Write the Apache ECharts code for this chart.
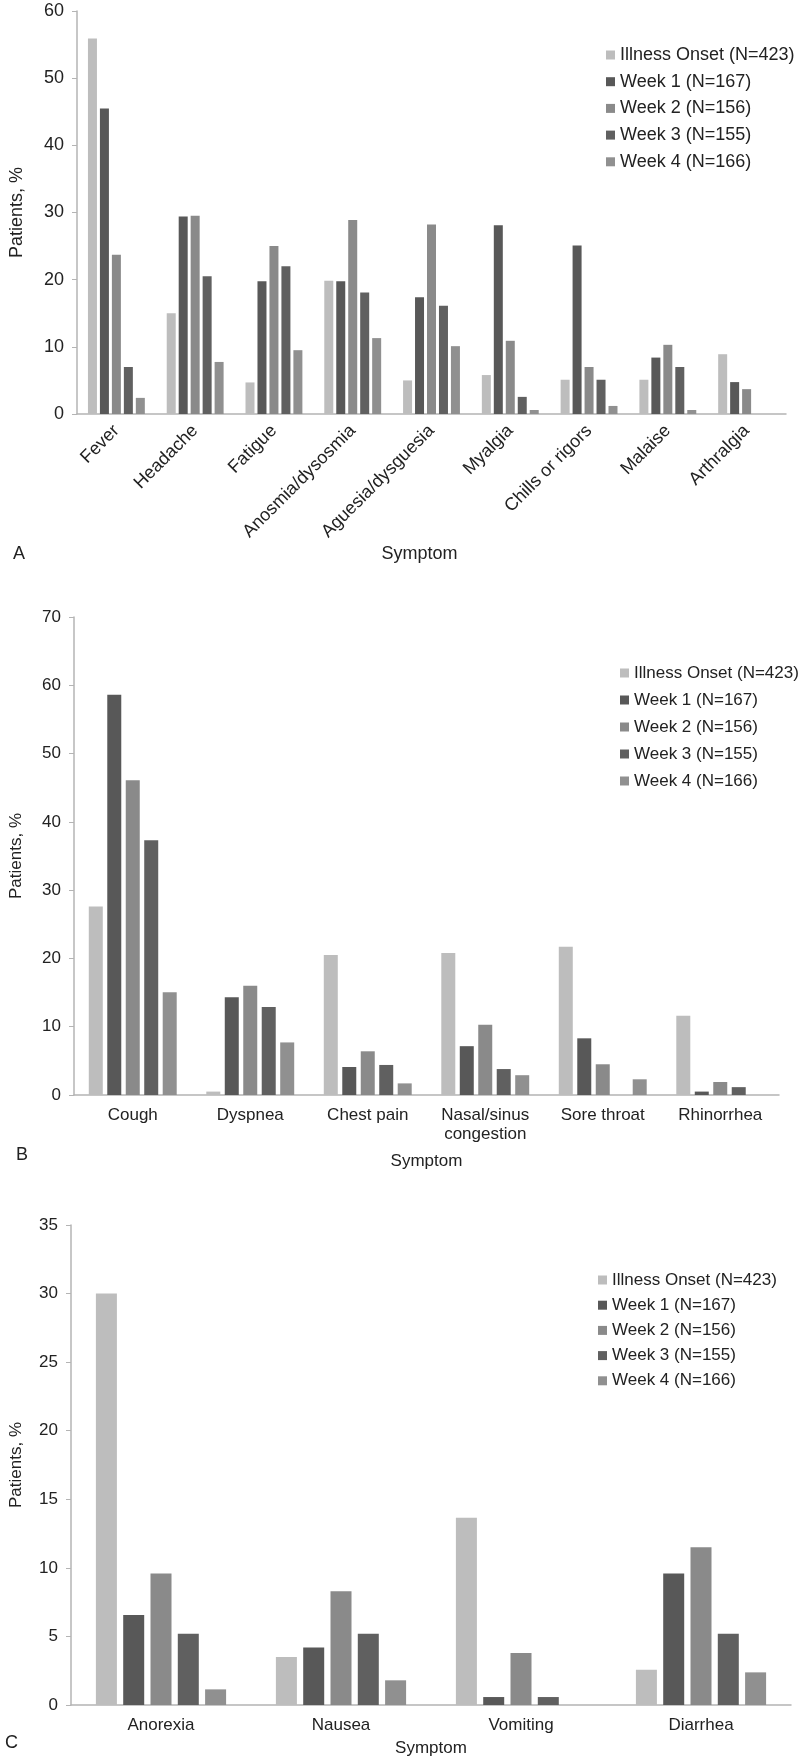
<!DOCTYPE html>
<html>
<head>
<meta charset="utf-8">
<script src="https://cdn.jsdelivr.net/npm/echarts@6/dist/echarts.min.js"></script>
<style>
html,body{margin:0;padding:0;background:#fff;}
#chart{width:800px;height:1763px;}
</style>
</head>
<body>
<div id="chart"></div>
<script>
// ---------- DATA ----------
const seriesNames = ['Illness Onset (N=423)', 'Week 1 (N=167)', 'Week 2 (N=156)', 'Week 3 (N=155)', 'Week 4 (N=166)'];

const catsA = ['Fever', 'Headache', 'Fatigue', 'Anosmia/dysosmia', 'Aguesia/dysguesia', 'Myalgia', 'Chills or rigors', 'Malaise', 'Arthralgia'];
const A_onset = [55.9, 15.0, 4.7, 19.85, 5.0, 5.8, 5.1, 5.1, 8.9];
const A_week1 = [45.5, 29.4, 19.75, 19.75, 17.4, 28.1, 25.1, 8.4, 4.75];
const A_week2 = [23.7, 29.5, 25.0, 28.9, 28.2, 10.9, 7.0, 10.3, 3.7];
const A_week3 = [7.0, 20.5, 22.0, 18.1, 16.1, 2.55, 5.1, 7.0, 0];
const A_week4 = [2.4, 7.75, 9.5, 11.3, 10.1, 0.6, 1.2, 0.6, 0];

const catsB = ['Cough', 'Dyspnea', 'Chest pain', 'Nasal/sinus\ncongestion', 'Sore throat', 'Rhinorrhea'];
const B_onset = [27.6, 0.5, 20.5, 20.8, 21.7, 11.6];
const B_week1 = [58.6, 14.3, 4.1, 7.15, 8.3, 0.5];
const B_week2 = [46.1, 16.0, 6.4, 10.3, 4.5, 1.9];
const B_week3 = [37.3, 12.9, 4.4, 3.8, 0, 1.15];
const B_week4 = [15.05, 7.7, 1.7, 2.9, 2.3, 0];

const catsC = ['Anorexia', 'Nausea', 'Vomiting', 'Diarrhea'];
const C_onset = [30.0, 3.5, 13.65, 2.57];
const C_week1 = [6.57, 4.2, 0.58, 9.58];
const C_week2 = [9.58, 8.3, 3.8, 11.5];
const C_week3 = [5.19, 5.2, 0.58, 5.19];
const C_week4 = [1.14, 1.8, 0, 2.38];

const yTicksA = {min: 0, max: 60, interval: 10};
const yTicksB = {min: 0, max: 70, interval: 10};
const yTicksC = {min: 0, max: 35, interval: 5};

// ---------- STYLE ----------
const colors = ['#bdbdbd', '#585858', '#8a8a8a', '#606060', '#909090'];
const FONT = '"Liberation Sans", Arial, sans-serif';
const txt = '#222222';
const axisCol = '#b4b4b4';

const panels = [
  {cats: catsA, data: [A_onset, A_week1, A_week2, A_week3, A_week4], ticks: yTicksA,
   grid: {left: 75, right: 14, top: 11, height: 403},
   barWidth: 9, barGap: '33%', fs: 18, rotate: 45, xNameGap: 131, yNameGap: 51, labelMargin: 14,
   namePad: [0, 24, 0, 0],
   legend: {left: 606, top: 46, itemGap: 8.7, fs: 18}},
  {cats: catsB, data: [B_onset, B_week1, B_week2, B_week3, B_week4], ticks: yTicksB,
   grid: {left: 71, right: 21, top: 617, height: 478},
   barWidth: 14, barGap: '32%', fs: 17, rotate: 0, xNameGap: 58, yNameGap: 49, labelMargin: 11,
   namePad: [0, 0, 0, 0],
   legend: {left: 620, top: 664, itemGap: 9, fs: 17}},
  {cats: catsC, data: [C_onset, C_week1, C_week2, C_week3, C_week4], ticks: yTicksC,
   grid: {left: 65, right: 9, top: 1225, height: 480},
   barWidth: 21, barGap: '30%', fs: 17, rotate: 0, xNameGap: 35, yNameGap: 46, labelMargin: 11,
   namePad: [0, 0, 0, 0],
   legend: {left: 598, top: 1271, itemGap: 7.2, fs: 17}}
];

const grid = [], xAxis = [], yAxis = [], series = [], legend = [];
panels.forEach((p, i) => {
  grid.push(Object.assign({containLabel: false}, p.grid));
  xAxis.push({
    type: 'category', gridIndex: i, data: p.cats,
    name: 'Symptom', nameLocation: 'middle', nameGap: p.xNameGap,
    nameTextStyle: {color: txt, fontFamily: FONT, fontSize: p.fs, padding: p.namePad},
    axisLine: {lineStyle: {color: axisCol, width: 1.5}},
    axisTick: {show: false},
    axisLabel: {color: txt, fontFamily: FONT, fontSize: p.fs, rotate: p.rotate, interval: 0,
                margin: p.labelMargin, lineHeight: 19}
  });
  yAxis.push({
    type: 'value', gridIndex: i, min: p.ticks.min, max: p.ticks.max, interval: p.ticks.interval,
    name: 'Patients, %', nameLocation: 'middle', nameGap: p.yNameGap,
    nameTextStyle: {color: txt, fontFamily: FONT, fontSize: p.fs},
    axisLine: {show: true, lineStyle: {color: axisCol, width: 1.5}},
    axisTick: {show: true, length: 5, lineStyle: {color: axisCol}},
    splitLine: {show: false},
    axisLabel: {color: txt, fontFamily: FONT, fontSize: p.fs, margin: 13}
  });
  p.data.forEach((d, k) => {
    series.push({
      type: 'bar', name: seriesNames[k], xAxisIndex: i, yAxisIndex: i,
      data: d, barWidth: p.barWidth, barGap: p.barGap,
      itemStyle: {color: colors[k]},
      silent: true, animation: false
    });
  });
  legend.push({
    orient: 'vertical', left: p.legend.left, top: p.legend.top, padding: 0,
    itemWidth: 9, itemHeight: 9, itemGap: p.legend.itemGap,
    icon: 'rect', selectedMode: false,
    data: seriesNames.map((n, k) => ({name: n, itemStyle: {color: colors[k]}})),
    textStyle: {color: txt, fontFamily: FONT, fontSize: p.legend.fs, lineHeight: 18, padding: [0, 0, 0, 0]}
  });
});

const chart = echarts.init(document.getElementById('chart'), null, {renderer: 'canvas'});
chart.setOption({
  backgroundColor: '#ffffff',
  animation: false,
  color: colors,
  grid: grid, xAxis: xAxis, yAxis: yAxis, series: series, legend: legend,
  graphic: [
    {type: 'text', left: 13, top: 545, style: {text: 'A', fill: txt, font: '18px ' + FONT}},
    {type: 'text', left: 16, top: 1146, style: {text: 'B', fill: txt, font: '18px ' + FONT}},
    {type: 'text', left: 5, top: 1734, style: {text: 'C', fill: txt, font: '18px ' + FONT}}
  ]
});
</script>
</body>
</html>
